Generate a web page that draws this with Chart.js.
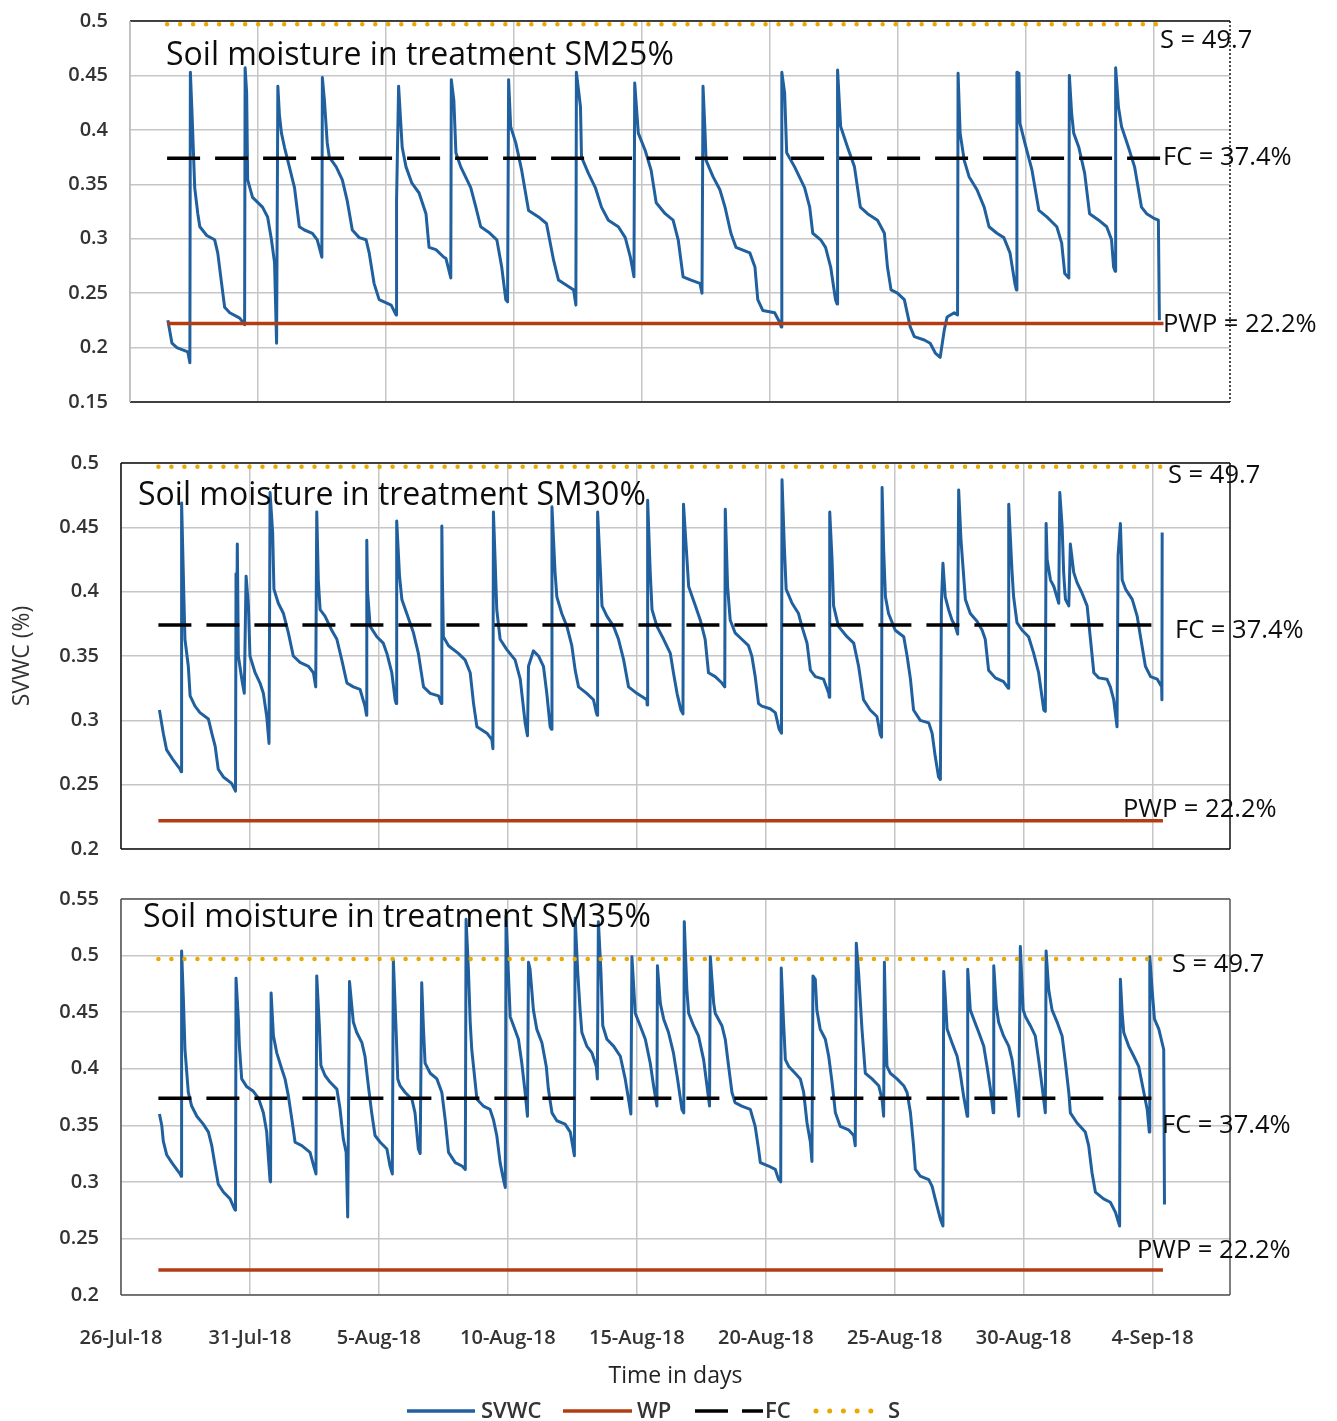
<!DOCTYPE html>
<html>
<head>
<meta charset="utf-8">
<title>Soil moisture by treatment</title>
<script src="https://cdn.jsdelivr.net/npm/chart.js@4.4.1/dist/chart.umd.min.js"></script>
<style>
  body { margin: 0; background: #fff; }
  #page { position: relative; width: 1337px; height: 1421px; background: #fff; }
  #page canvas { position: absolute; left: 0; }
</style>
</head>
<body>
<div id="page">
  <canvas id="sm25" width="1337" height="440" style="top:0"></canvas>
  <canvas id="sm30" width="1337" height="440" style="top:440px"></canvas>
  <canvas id="sm35" width="1337" height="541" style="top:880px"></canvas>
</div>
<script>
// days since 26-Jul-18 00:00, soil volumetric water content
const sm25 = [
  [1.48,0.225],[1.64,0.204],[1.83,0.200],[2.26,0.196],[2.34,0.186],[2.36,0.453],[2.42,0.418],[2.53,0.347],
  [2.65,0.323],[2.73,0.311],[3.00,0.303],[3.31,0.299],[3.43,0.287],[3.58,0.259],[3.70,0.237],[3.90,0.232],
  [4.29,0.227],[4.48,0.221],[4.50,0.457],[4.56,0.434],[4.60,0.354],[4.79,0.338],[5.18,0.329],[5.38,0.320],
  [5.53,0.299],[5.65,0.278],[5.73,0.204],[5.78,0.440],[5.84,0.414],[5.92,0.397],[6.04,0.384],[6.23,0.366],
  [6.43,0.347],[6.62,0.311],[6.82,0.308],[7.13,0.305],[7.32,0.299],[7.50,0.283],[7.52,0.448],[7.60,0.427],
  [7.71,0.388],[7.79,0.375],[8.06,0.366],[8.30,0.354],[8.49,0.335],[8.69,0.308],[8.96,0.301],[9.23,0.299],
  [9.35,0.287],[9.54,0.259],[9.74,0.244],[10.21,0.239],[10.40,0.230],[10.42,0.335],[10.50,0.440],[10.64,0.384],
  [10.79,0.366],[11.02,0.351],[11.30,0.342],[11.57,0.323],[11.69,0.292],[11.96,0.290],[12.27,0.283],[12.35,0.282],
  [12.54,0.264],[12.56,0.446],[12.66,0.427],[12.74,0.379],[12.93,0.366],[13.32,0.347],[13.52,0.329],[13.71,0.311],
  [14.02,0.306],[14.34,0.299],[14.53,0.274],[14.69,0.244],[14.76,0.242],[14.80,0.446],[14.88,0.403],[15.08,0.388],
  [15.31,0.363],[15.58,0.326],[15.97,0.320],[16.28,0.314],[16.56,0.280],[16.75,0.262],[17.14,0.256],[17.34,0.253],
  [17.43,0.239],[17.45,0.453],[17.61,0.421],[17.65,0.375],[17.92,0.360],[18.19,0.347],[18.43,0.329],[18.70,0.317],
  [19.09,0.311],[19.36,0.301],[19.56,0.283],[19.70,0.265],[19.73,0.443],[19.87,0.397],[20.14,0.381],[20.37,0.363],
  [20.57,0.333],[20.92,0.323],[21.23,0.317],[21.43,0.299],[21.62,0.265],[21.93,0.262],[22.28,0.259],[22.36,0.250],
  [22.40,0.440],[22.48,0.397],[22.52,0.372],[22.79,0.357],[23.06,0.345],[23.26,0.329],[23.49,0.305],[23.69,0.292],
  [24.23,0.287],[24.43,0.274],[24.54,0.244],[24.74,0.234],[25.20,0.232],[25.40,0.223],[25.46,0.219],[25.48,0.453],
  [25.59,0.434],[25.67,0.379],[25.98,0.366],[26.37,0.347],[26.57,0.329],[26.69,0.305],[27.00,0.299],[27.19,0.292],
  [27.39,0.274],[27.58,0.244],[27.64,0.240],[27.66,0.455],[27.78,0.403],[28.05,0.384],[28.32,0.366],[28.55,0.329],
  [28.83,0.323],[29.22,0.317],[29.49,0.305],[29.61,0.274],[29.75,0.253],[30.00,0.250],[30.27,0.244],[30.50,0.219],
  [30.66,0.210],[31.05,0.207],[31.28,0.204],[31.48,0.195],[31.67,0.191],[31.83,0.216],[31.94,0.228],[32.22,0.232],
  [32.35,0.230],[32.37,0.452],[32.45,0.397],[32.61,0.372],[32.80,0.357],[33.11,0.345],[33.39,0.329],[33.58,0.311],
  [33.89,0.305],[34.16,0.301],[34.40,0.287],[34.59,0.259],[34.65,0.253],[34.67,0.453],[34.75,0.452],[34.79,0.406],
  [34.98,0.388],[35.26,0.363],[35.53,0.326],[35.84,0.320],[36.23,0.311],[36.42,0.296],[36.54,0.268],[36.70,0.264],
  [36.72,0.450],[36.81,0.415],[36.89,0.397],[37.09,0.384],[37.32,0.360],[37.51,0.323],[37.87,0.317],[38.18,0.311],
  [38.37,0.299],[38.45,0.274],[38.51,0.270],[38.53,0.457],[38.64,0.421],[38.76,0.403],[39.03,0.384],[39.27,0.366],
  [39.54,0.329],[39.74,0.323],[40.01,0.319],[40.20,0.317],[40.24,0.225]
];

const sm30 = [
  [1.49,0.308],[1.64,0.290],[1.77,0.277],[2.03,0.269],[2.29,0.262],[2.33,0.260],[2.35,0.469],[2.44,0.394],
  [2.48,0.363],[2.61,0.342],[2.68,0.319],[2.87,0.311],[3.06,0.306],[3.39,0.301],[3.52,0.290],[3.65,0.280],
  [3.77,0.262],[3.97,0.256],[4.29,0.251],[4.44,0.245],[4.46,0.414],[4.49,0.380],[4.51,0.437],[4.55,0.350],
  [4.70,0.330],[4.78,0.321],[4.85,0.412],[4.94,0.389],[5.00,0.350],[5.20,0.337],[5.39,0.329],[5.52,0.321],
  [5.65,0.303],[5.74,0.282],[5.78,0.477],[5.88,0.446],[5.93,0.402],[6.10,0.391],[6.30,0.383],[6.49,0.368],
  [6.68,0.350],[6.94,0.345],[7.27,0.342],[7.46,0.337],[7.55,0.326],[7.59,0.462],[7.65,0.409],[7.72,0.386],
  [7.91,0.381],[8.17,0.370],[8.37,0.363],[8.56,0.347],[8.76,0.329],[9.01,0.326],[9.27,0.324],[9.46,0.311],
  [9.52,0.304],[9.53,0.440],[9.56,0.400],[9.66,0.373],[9.92,0.365],[10.17,0.360],[10.31,0.352],[10.50,0.337],
  [10.63,0.316],[10.67,0.313],[10.69,0.455],[10.80,0.412],[10.89,0.394],[11.08,0.383],[11.34,0.368],[11.53,0.352],
  [11.73,0.326],[11.99,0.321],[12.31,0.319],[12.42,0.313],[12.44,0.451],[12.46,0.412],[12.50,0.365],[12.70,0.358],
  [13.08,0.352],[13.34,0.347],[13.54,0.337],[13.67,0.313],[13.80,0.295],[14.19,0.290],[14.38,0.285],[14.42,0.278],
  [14.44,0.462],[14.51,0.422],[14.57,0.386],[14.70,0.363],[14.96,0.355],[15.28,0.347],[15.48,0.332],[15.67,0.298],
  [15.76,0.288],[15.80,0.342],[15.99,0.354],[16.19,0.350],[16.38,0.342],[16.51,0.321],[16.64,0.295],[16.69,0.293],
  [16.71,0.466],[16.83,0.415],[16.90,0.396],[17.09,0.383],[17.29,0.373],[17.48,0.358],[17.61,0.339],[17.74,0.326],
  [18.06,0.321],[18.32,0.316],[18.43,0.306],[18.46,0.304],[18.48,0.462],[18.58,0.420],[18.65,0.389],[18.84,0.381],
  [19.10,0.373],[19.29,0.363],[19.49,0.347],[19.68,0.326],[20.00,0.321],[20.39,0.316],[20.40,0.312],[20.42,0.471],
  [20.52,0.415],[20.59,0.386],[20.78,0.373],[21.04,0.363],[21.30,0.352],[21.42,0.337],[21.56,0.321],[21.71,0.308],
  [21.79,0.305],[21.81,0.468],[21.92,0.433],[22.01,0.404],[22.27,0.389],[22.46,0.378],[22.65,0.363],[22.78,0.337],
  [23.04,0.334],[23.30,0.329],[23.41,0.326],[23.43,0.464],[23.52,0.404],[23.62,0.378],[23.81,0.368],[24.07,0.363],
  [24.33,0.358],[24.46,0.350],[24.59,0.334],[24.72,0.313],[24.85,0.311],[25.17,0.309],[25.37,0.306],[25.52,0.293],
  [25.61,0.290],[25.63,0.487],[25.72,0.435],[25.79,0.402],[26.02,0.391],[26.27,0.383],[26.40,0.373],[26.60,0.360],
  [26.73,0.339],[26.92,0.334],[27.24,0.332],[27.44,0.321],[27.46,0.318],[27.48,0.462],[27.57,0.425],[27.63,0.389],
  [27.82,0.373],[28.15,0.365],[28.41,0.360],[28.60,0.342],[28.79,0.316],[29.05,0.308],[29.31,0.303],[29.44,0.289],
  [29.49,0.287],[29.51,0.481],[29.57,0.433],[29.64,0.396],[29.76,0.383],[30.02,0.370],[30.35,0.365],[30.48,0.350],
  [30.61,0.332],[30.73,0.308],[30.99,0.300],[31.32,0.298],[31.45,0.290],[31.57,0.272],[31.70,0.256],[31.77,0.254],
  [31.81,0.391],[31.87,0.422],[31.96,0.396],[32.09,0.386],[32.22,0.378],[32.35,0.373],[32.44,0.367],[32.48,0.479],
  [32.57,0.440],[32.74,0.394],[32.93,0.383],[33.19,0.377],[33.39,0.370],[33.51,0.363],[33.64,0.339],[33.90,0.333],
  [34.22,0.330],[34.40,0.325],[34.42,0.468],[34.55,0.415],[34.61,0.396],[34.74,0.376],[34.94,0.370],[35.19,0.365],
  [35.39,0.352],[35.58,0.337],[35.78,0.308],[35.84,0.307],[35.87,0.453],[35.91,0.425],[36.04,0.409],[36.17,0.404],
  [36.36,0.391],[36.40,0.477],[36.49,0.451],[36.55,0.415],[36.62,0.394],[36.75,0.389],[36.81,0.437],[36.94,0.415],
  [37.07,0.407],[37.26,0.399],[37.46,0.389],[37.59,0.363],[37.72,0.337],[37.91,0.333],[38.23,0.332],[38.36,0.326],
  [38.49,0.316],[38.62,0.295],[38.66,0.428],[38.75,0.453],[38.82,0.409],[38.95,0.402],[39.21,0.394],[39.40,0.381],
  [39.53,0.365],[39.72,0.342],[39.92,0.334],[40.18,0.332],[40.35,0.326],[40.36,0.316],[40.37,0.446]
];

const sm35 = [
  [1.49,0.360],[1.58,0.350],[1.64,0.336],[1.77,0.324],[1.97,0.317],[2.16,0.311],[2.29,0.307],[2.33,0.305],
  [2.35,0.504],[2.42,0.461],[2.48,0.417],[2.61,0.379],[2.74,0.367],[2.94,0.358],[3.19,0.351],[3.39,0.344],
  [3.52,0.332],[3.65,0.314],[3.77,0.298],[3.97,0.291],[4.23,0.285],[4.40,0.276],[4.44,0.275],[4.46,0.480],
  [4.55,0.444],[4.59,0.420],[4.68,0.391],[4.88,0.384],[5.13,0.380],[5.33,0.374],[5.52,0.361],[5.65,0.344],
  [5.71,0.323],[5.78,0.301],[5.80,0.300],[5.82,0.467],[5.91,0.429],[6.04,0.414],[6.23,0.400],[6.36,0.391],
  [6.49,0.376],[6.62,0.356],[6.75,0.335],[7.01,0.332],[7.33,0.326],[7.46,0.315],[7.56,0.307],[7.59,0.482],
  [7.69,0.438],[7.75,0.403],[7.91,0.394],[8.11,0.388],[8.37,0.382],[8.49,0.365],[8.62,0.338],[8.73,0.326],
  [8.79,0.269],[8.86,0.477],[8.95,0.455],[9.01,0.441],[9.14,0.432],[9.34,0.423],[9.46,0.411],[9.59,0.385],
  [9.72,0.361],[9.85,0.341],[10.05,0.335],[10.31,0.329],[10.43,0.314],[10.52,0.307],[10.56,0.496],[10.67,0.432],
  [10.73,0.391],[10.82,0.385],[11.02,0.379],[11.28,0.373],[11.40,0.361],[11.53,0.329],[11.60,0.325],[11.66,0.476],
  [11.73,0.434],[11.79,0.405],[11.99,0.396],[12.25,0.391],[12.44,0.379],[12.57,0.355],[12.70,0.326],[12.96,0.317],
  [13.22,0.314],[13.35,0.311],[13.38,0.532],[13.47,0.488],[13.54,0.441],[13.60,0.417],[13.80,0.373],[14.05,0.367],
  [14.31,0.364],[14.44,0.355],[14.57,0.341],[14.70,0.317],[14.83,0.302],[14.90,0.295],[14.93,0.535],[15.02,0.485],
  [15.09,0.446],[15.22,0.438],[15.41,0.426],[15.54,0.405],[15.67,0.379],[15.76,0.358],[15.80,0.494],[15.86,0.488],
  [15.99,0.452],[16.12,0.435],[16.32,0.423],[16.49,0.402],[16.57,0.382],[16.71,0.361],[16.90,0.354],[17.22,0.351],
  [17.42,0.344],[17.58,0.323],[17.61,0.533],[17.71,0.485],[17.80,0.452],[17.87,0.432],[18.06,0.420],[18.26,0.414],
  [18.43,0.402],[18.47,0.391],[18.51,0.530],[18.61,0.485],[18.68,0.438],[18.84,0.426],[19.10,0.420],[19.36,0.411],
  [19.55,0.391],[19.68,0.373],[19.77,0.360],[19.81,0.499],[19.94,0.449],[20.13,0.438],[20.33,0.426],[20.52,0.405],
  [20.65,0.385],[20.78,0.367],[20.80,0.491],[20.91,0.458],[21.04,0.444],[21.23,0.432],[21.42,0.414],[21.58,0.391],
  [21.75,0.364],[21.82,0.361],[21.84,0.530],[21.94,0.470],[22.01,0.449],[22.20,0.438],[22.39,0.429],[22.59,0.408],
  [22.72,0.385],[22.82,0.367],[22.85,0.499],[22.98,0.458],[23.04,0.449],[23.30,0.438],[23.43,0.426],[23.56,0.402],
  [23.69,0.379],[23.81,0.370],[24.07,0.367],[24.40,0.364],[24.59,0.349],[24.72,0.329],[24.79,0.317],[25.11,0.314],
  [25.37,0.311],[25.50,0.302],[25.58,0.300],[25.60,0.489],[25.69,0.441],[25.76,0.408],[25.89,0.402],[26.14,0.396],
  [26.34,0.391],[26.47,0.379],[26.60,0.352],[26.73,0.335],[26.79,0.318],[26.83,0.482],[26.92,0.479],[26.98,0.452],
  [27.11,0.435],[27.31,0.426],[27.44,0.411],[27.57,0.388],[27.70,0.361],[27.89,0.349],[28.21,0.346],[28.41,0.341],
  [28.47,0.332],[28.51,0.511],[28.60,0.485],[28.73,0.435],[28.86,0.396],[29.12,0.391],[29.38,0.385],[29.51,0.373],
  [29.57,0.358],[29.60,0.494],[29.64,0.449],[29.70,0.402],[29.83,0.396],[30.09,0.391],[30.35,0.385],[30.48,0.379],
  [30.61,0.361],[30.73,0.332],[30.80,0.311],[30.99,0.305],[31.32,0.302],[31.45,0.296],[31.57,0.285],[31.77,0.267],
  [31.87,0.261],[31.90,0.486],[31.96,0.464],[32.03,0.435],[32.22,0.423],[32.42,0.411],[32.54,0.396],[32.67,0.376],
  [32.81,0.358],[32.83,0.488],[32.93,0.452],[33.06,0.444],[33.26,0.432],[33.45,0.420],[33.58,0.402],[33.71,0.382],
  [33.82,0.361],[33.84,0.491],[33.94,0.455],[34.03,0.441],[34.22,0.429],[34.42,0.420],[34.55,0.408],[34.68,0.385],
  [34.81,0.358],[34.87,0.508],[34.98,0.452],[35.07,0.446],[35.26,0.438],[35.45,0.429],[35.58,0.408],[35.71,0.385],
  [35.84,0.361],[35.87,0.504],[35.97,0.470],[36.10,0.452],[36.30,0.441],[36.49,0.429],[36.62,0.405],[36.75,0.379],
  [36.81,0.361],[37.07,0.352],[37.39,0.344],[37.52,0.332],[37.65,0.308],[37.78,0.291],[38.10,0.285],[38.36,0.282],
  [38.56,0.273],[38.72,0.261],[38.75,0.479],[38.82,0.449],[38.88,0.432],[39.07,0.420],[39.27,0.411],[39.46,0.402],
  [39.66,0.379],[39.79,0.364],[39.87,0.344],[39.89,0.499],[39.98,0.470],[40.07,0.444],[40.24,0.435],[40.43,0.417],
  [40.46,0.280]
];

// soil water constants (fraction)
const fcLevel = 0.374;
const wpLevel = 0.222;
const satLevel = 0.497;
const refSpan = [1.45, 40.4];

const MONTHS = ['Jan','Feb','Mar','Apr','May','Jun','Jul','Aug','Sep','Oct','Nov','Dec'];
const BLUE = '#20609e';
const RED = '#b43c14';
const GOLD = '#eaa800';
const GRID = '#c6c6c6';
const FONT = "'Open Sans', sans-serif";

Chart.defaults.font.family = FONT;

function dayLabel(v) {
  const d = new Date(2018, 6, 26 + v);
  return d.getDate() + '-' + MONTHS[d.getMonth()] + '-18';
}

const refLine = level => refSpan.map(x => ({ x, y: level }));

// outline around the plot area
const framePlugin = {
  id: 'frame',
  afterDatasetsDraw(chart, args, o) {
    const { ctx, chartArea: a } = chart;
    ctx.save();
    ctx.lineWidth = o.width;
    ctx.strokeStyle = o.color;
    ctx.beginPath();
    ctx.moveTo(a.left, a.top); ctx.lineTo(a.right, a.top);
    ctx.moveTo(a.left, a.bottom); ctx.lineTo(a.right, a.bottom);
    ctx.stroke();
    ctx.strokeStyle = o.left || o.color;
    ctx.beginPath();
    ctx.moveTo(a.left, a.top); ctx.lineTo(a.left, a.bottom);
    ctx.stroke();
    ctx.strokeStyle = o.color;
    if (o.rightDash) ctx.setLineDash(o.rightDash);
    ctx.beginPath();
    ctx.moveTo(a.right, a.top); ctx.lineTo(a.right, a.bottom);
    ctx.stroke();
    ctx.restore();
  }
};

// free text boxes: [text, x, baseline, size]
const notesPlugin = {
  id: 'notes',
  afterDraw(chart, args, o) {
    const ctx = chart.ctx;
    ctx.save();
    ctx.fillStyle = '#0d0d0d';
    ctx.textBaseline = 'alphabetic';
    ctx.textAlign = 'left';
    for (const [text, x, y, size] of o.items) {
      ctx.font = size + 'px ' + FONT;
      ctx.fillText(text, x, y);
    }
    ctx.restore();
  }
};

const legendItems = [
  { text: 'SVWC', color: BLUE, x0: 407, x1: 475, tx: 481, width: 3.5, dash: [] },
  { text: 'WP', color: RED, x0: 563, x1: 632, tx: 637, width: 3.5, dash: [] },
  { text: 'FC', color: '#000', x0: 695, x1: 763, tx: 765, width: 3.5, dash: [33, 14] },
  { text: 'S', color: GOLD, x0: 816, x1: 871, tx: 888, width: 5, dash: [0.01, 13.7], cap: 'round' }
];

const legendPlugin = {
  id: 'bottomLegend',
  afterDraw(chart, args, o) {
    const ctx = chart.ctx;
    ctx.save();
    ctx.font = '600 22px ' + FONT;
    ctx.textBaseline = 'middle';
    for (const it of legendItems) {
      ctx.strokeStyle = it.color;
      ctx.lineWidth = it.width;
      ctx.lineCap = it.cap || 'butt';
      ctx.setLineDash(it.dash);
      ctx.beginPath();
      ctx.moveTo(it.x0, o.y);
      ctx.lineTo(it.x1, o.y);
      ctx.stroke();
      ctx.fillStyle = '#333';
      ctx.fillText(it.text, it.tx, o.y + 1);
    }
    ctx.restore();
  }
};

function makePanel(id, series, yMin, yMax, p) {
  return new Chart(document.getElementById(id), {
    type: 'line',
    data: {
      datasets: [
        { label: 'SVWC', data: series.map(([x, y]) => ({ x, y })), borderColor: BLUE, borderWidth: 3,
          borderJoinStyle: 'round', pointRadius: 0, tension: 0, order: 1 },
        { label: 'WP', data: refLine(wpLevel), borderColor: RED, borderWidth: 3.5, pointRadius: 0, order: 0 },
        { label: 'FC', data: refLine(fcLevel), borderColor: '#000', borderWidth: 3.5, borderDash: [33, 15],
          pointRadius: 0, order: 0 },
        { label: 'S', data: refLine(satLevel), borderColor: GOLD, borderWidth: 4.5, borderDash: [0.01, 13],
          borderCapStyle: 'round', pointRadius: 0, order: 0 }
      ]
    },
    options: {
      responsive: false,
      animation: false,
      events: [],
      layout: { padding: { top: p.top, right: 1337 - p.right, bottom: p.bottom, left: 0 } },
      plugins: {
        legend: { display: false },
        tooltip: { enabled: false },
        frame: p.frame,
        notes: { items: p.notes },
        bottomLegend: { y: p.legendY }
      },
      scales: {
        x: {
          type: 'linear', min: 0, max: 43,
          grid: { color: GRID, lineWidth: 1.5, drawTicks: false },
          border: { display: false },
          ticks: { display: p.xLabels, stepSize: 5, includeBounds: false, padding: 31, maxRotation: 0,
                   autoSkip: false, color: '#333', font: { size: 20, weight: '600' }, callback: dayLabel },
          title: { display: p.xLabels, text: 'Time in days', color: '#222', font: { size: 23 },
                   padding: { top: 0, bottom: 5 } },
          afterFit: s => { s.height = p.xHeight; }
        },
        y: {
          min: yMin, max: yMax,
          grid: { color: GRID, lineWidth: 1.5, drawTicks: false },
          border: { display: false },
          ticks: { stepSize: 0.05, padding: 22, color: '#333', font: { size: 20, weight: '600' },
                   callback: v => String(+v.toFixed(2)) },
          title: { display: !!p.yTitle, text: p.yTitle || '', color: '#333', font: { size: 23 },
                   padding: { top: 9, bottom: 0 } },
          // keep the plot box where the layout padding puts it
          afterFit: s => { s.width = p.left; s.paddingTop = 0; s.paddingBottom = 0; }
        }
      }
    },
    plugins: p.legendY ? [framePlugin, notesPlugin, legendPlugin] : [framePlugin, notesPlugin]
  });
}

makePanel('sm25', sm25, 0.15, 0.5, {
  left: 130, right: 1230, top: 21, bottom: 38, xHeight: 0, xLabels: false,
  frame: { color: '#111', width: 1.5, left: '#bdbdbd', rightDash: [2, 2] },
  notes: [
    ['Soil moisture in treatment SM25%', 166, 65, 32],
    ['S = 49.7', 1160, 48, 25.5],
    ['FC = 37.4%', 1163, 165, 25.5],
    ['PWP = 22.2%', 1163, 332, 25.5]
  ]
});

makePanel('sm30', sm30, 0.2, 0.5, {
  left: 121, right: 1230, top: 23, bottom: 31, xHeight: 0, xLabels: false, yTitle: 'SVWC (%)',
  frame: { color: '#111', width: 1.5 },
  notes: [
    ['Soil moisture in treatment SM30%', 138, 65, 32],
    ['S = 49.7', 1168, 43, 25.5],
    ['FC = 37.4%', 1175, 198, 25.5],
    ['PWP = 22.2%', 1123, 377, 25.5]
  ]
});

makePanel('sm35', sm35, 0.2, 0.55, {
  left: 121, right: 1230, top: 19, bottom: 26, xHeight: 100, xLabels: true,
  frame: { color: '#555', width: 1.5 },
  legendY: 531,
  notes: [
    ['Soil moisture in treatment SM35%', 143, 47, 32],
    ['S = 49.7', 1172, 92, 25.5],
    ['FC = 37.4%', 1162, 253, 25.5],
    ['PWP = 22.2%', 1137, 378, 25.5]
  ]
});
</script>
</body>
</html>
